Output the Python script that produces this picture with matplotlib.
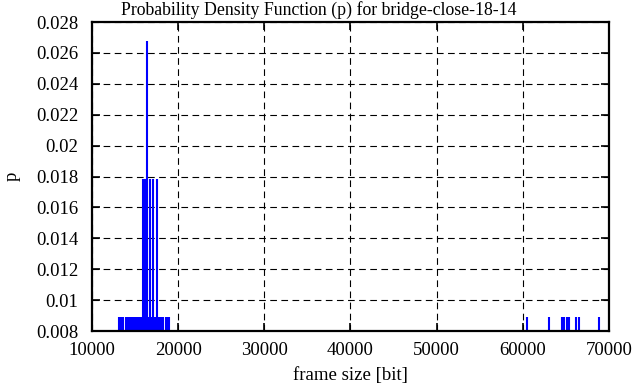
import matplotlib
matplotlib.use("Agg")
import matplotlib.pyplot as plt
from matplotlib.ticker import FuncFormatter

# frame sizes (bit) and probabilities (N ~ 112 frames)
single_sizes = [13150, 13270, 13390, 13500, 13610, 13960, 14070, 14190, 14300,
                14420, 14540, 14650, 14770, 14880, 15000, 15110, 15230, 15340,
                15460, 15570, 15690, 15800, 16500, 16610, 16840, 16960, 17190,
                17300, 17420, 17650, 17760, 17870, 18070, 18180, 18300, 18590,
                18820, 18930,
                60500, 63000, 64500, 64800, 65100, 65400, 66200, 66500, 68900]
double_sizes = [15920, 16030, 16150, 16270, 16730, 17080, 17540]
triple_sizes = [16380]

p1 = 1 / 112
p2 = 2 / 112
p3 = 3 / 112

x_ticks = [10000, 20000, 30000, 40000, 50000, 60000, 70000]
y_ticks = [0.008, 0.01, 0.012, 0.014, 0.016, 0.018, 0.02, 0.022, 0.024, 0.026, 0.028]

plt.rcParams["font.family"] = ["Liberation Serif", "DejaVu Serif"]

fig = plt.figure(figsize=(6.37, 3.87), dpi=100)
ax = fig.add_axes([0.1444, 0.1447, 0.956 - 0.1444, 0.943 - 0.1447])

lw = 1.5
ax.vlines(single_sizes, 0, p1, color="#0000ff", linewidth=lw)
ax.vlines(double_sizes, 0, p2, color="#0000ff", linewidth=lw)
ax.vlines(triple_sizes, 0, p3, color="#0000ff", linewidth=lw)

ax.set_xlim(10000, 70000)
ax.set_ylim(0.008, 0.028)
ax.set_xticks(x_ticks)
ax.set_yticks(y_ticks)
ax.yaxis.set_major_formatter(FuncFormatter(lambda v, pos: "%g" % round(v, 4)))

ax.grid(True, color="black", linestyle=(0, (6, 4)), linewidth=0.8)
ax.set_axisbelow(True)
ax.tick_params(direction="in", length=6, width=1.2, top=True, right=True,
               labelsize=13.5)
ax.tick_params(axis="y", pad=10)
ax.tick_params(axis="x", pad=8)
for s in ax.spines.values():
    s.set_linewidth(1.6)

# title is centred on the whole figure, not on the axes
fig.text(0.5, 0.975, "Probability Density Function (p) for bridge-close-18-14",
         fontsize=12.8, ha="center", va="center")
ax.set_xlabel("frame size [bit]", fontsize=13.5, labelpad=6)
ax.set_ylabel("p", fontsize=13.5, labelpad=11)

fig.savefig("out.png", dpi=100)
